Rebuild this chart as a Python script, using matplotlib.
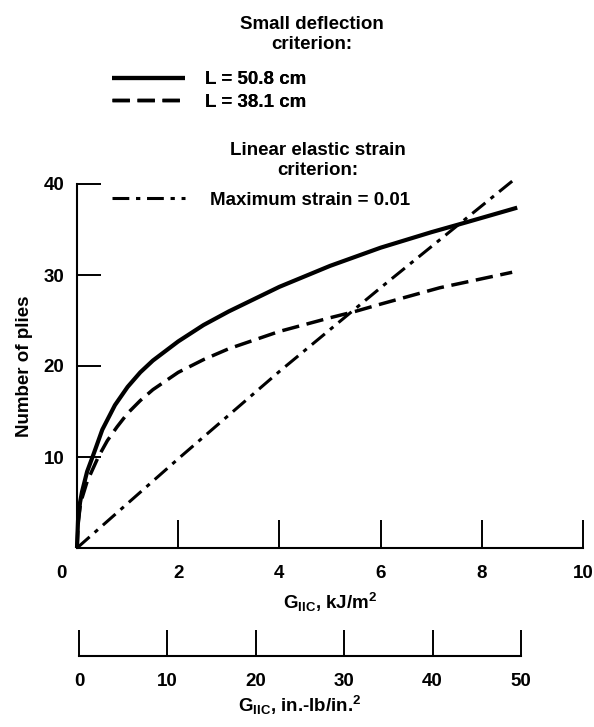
import numpy as np
import matplotlib
matplotlib.use("Agg")
import matplotlib.pyplot as plt

plt.rcParams['font.family'] = ['Liberation Sans', 'DejaVu Sans']
plt.rcParams['font.weight'] = 'bold'
plt.rcParams['mathtext.fontset'] = 'custom'
plt.rcParams['mathtext.rm'] = 'Liberation Sans:bold'
plt.rcParams['mathtext.it'] = 'Liberation Sans:bold'
plt.rcParams['mathtext.bf'] = 'Liberation Sans:bold'

# valori (G_IIC in kJ/m2, numero di strati)
g_50 = [0, 0.02, 0.06, 0.1, 0.2, 0.32, 0.5, 0.75, 1.0, 1.25, 1.5, 2, 2.5, 3, 4, 5, 6, 7, 7.7, 8.7]
n_50 = [0, 3.0, 5.0, 6.2, 8.4, 10.2, 13.0, 15.7, 17.7, 19.3, 20.6, 22.7, 24.5, 26.0, 28.7, 31.0, 33.0, 34.7, 35.8, 37.4]

g_38 = [0, 0.02, 0.06, 0.1, 0.2, 0.42, 0.6, 0.79, 1.0, 1.25, 1.5, 2, 2.5, 3, 4, 5, 5.5, 6, 7.17, 8.6]
n_38 = [0, 2.5, 4.5, 5.5, 7.3, 10.0, 11.8, 13.3, 14.8, 16.2, 17.4, 19.3, 20.7, 21.9, 23.8, 25.3, 26.0, 26.8, 28.6, 30.3]

g_eps = [0, 2, 4, 6, 8.62]
n_eps = [0, 9.8, 19.4, 28.6, 40.4]

x_ticks = [2, 4, 6, 8, 10]
y_ticks = [10, 20, 30, 40]
in_ticks = [0, 10, 20, 30, 40, 50]

W, H = 594, 727
fx = lambda px: px / W
fy = lambda py: 1 - py / H

fs = 13.5
fig = plt.figure(figsize=(W / 100, H / 100), dpi=100)

# asse principale
ax = fig.add_axes([fx(77), fy(548), fx(583) - fx(77), fy(184) - fy(548)])
l1, = ax.plot(g_50, n_50, color='black', lw=3.0, solid_capstyle='butt', solid_joinstyle='round', clip_on=False)
l2, = ax.plot(g_38, n_38, color='black', lw=2.5, dashes=(5, 2.2), clip_on=False)
l3, = ax.plot(g_eps, n_eps, color='black', lw=2.2, dashes=(5.5, 2.2, 1.4, 2.2), clip_on=False)

ax.set_xlim(0, 10)
ax.set_ylim(0, 40)
for s in ['top', 'right']:
    ax.spines[s].set_visible(False)
for s in ['left', 'bottom']:
    ax.spines[s].set_linewidth(1.5)

ax.set_xticks(x_ticks)
ax.set_xticklabels([str(v) for v in x_ticks])
ax.set_yticks(y_ticks)
ax.set_yticklabels([str(v) for v in y_ticks])
ax.tick_params(axis='x', direction='in', length=20, width=1.4, pad=12, labelsize=fs)
ax.tick_params(axis='y', direction='in', length=17, width=1.4, pad=9, labelsize=fs)
ax.annotate('0', xy=(0, 0), xycoords='data', xytext=(-16, -26), textcoords='offset pixels',
            ha='center', va='center', fontsize=fs, fontweight='bold')

ax.set_ylabel('Number of plies', fontsize=fs, fontweight='bold', labelpad=8)
ax.set_xlabel(r'G$_{\mathrm{IIC}}$, kJ/m$^{\mathrm{2}}$', fontsize=fs, fontweight='bold', labelpad=7)

# secondo asse in in.-lb/in.2
ax2 = fig.add_axes([fx(79), fy(656), fx(521) - fx(79), 0.02])
ax2.set_xlim(0, 50)
ax2.set_yticks([])
for s in ['top', 'right', 'left']:
    ax2.spines[s].set_visible(False)
ax2.spines['bottom'].set_linewidth(1.5)
ax2.patch.set_visible(False)
ax2.set_xticks(in_ticks)
ax2.set_xticklabels([str(v) for v in in_ticks])
ax2.tick_params(axis='x', direction='in', length=19, width=1.4, pad=12, labelsize=fs)
ax2.set_xlabel(r'G$_{\mathrm{IIC}}$, in.-lb/in.$^{\mathrm{2}}$', fontsize=fs, fontweight='bold', labelpad=3)

# legenda
fig.text(fx(312), fy(16), 'Small deflection\ncriterion:', ha='center', va='top',
         fontsize=fs, fontweight='bold', linespacing=1.25)
fig.text(fx(318), fy(142), 'Linear elastic strain\ncriterion:', ha='center', va='top',
         fontsize=fs, fontweight='bold', linespacing=1.25)

leg1 = fig.legend([l1, l2], ['L = 50.8 cm', 'L = 38.1 cm'], loc='center left',
                  bbox_to_anchor=(fx(112), fy(91)), frameon=False, fontsize=fs,
                  handlelength=3.9, handletextpad=1.07, labelspacing=0.28,
                  borderpad=0, borderaxespad=0)
leg2 = fig.legend([l3], ['Maximum strain = 0.01'], loc='center left',
                  bbox_to_anchor=(fx(112), fy(200)), frameon=False, fontsize=fs,
                  handlelength=3.9, handletextpad=1.3,
                  borderpad=0, borderaxespad=0)
fig.add_artist(leg1)

fig.savefig('out.png', dpi=100)
